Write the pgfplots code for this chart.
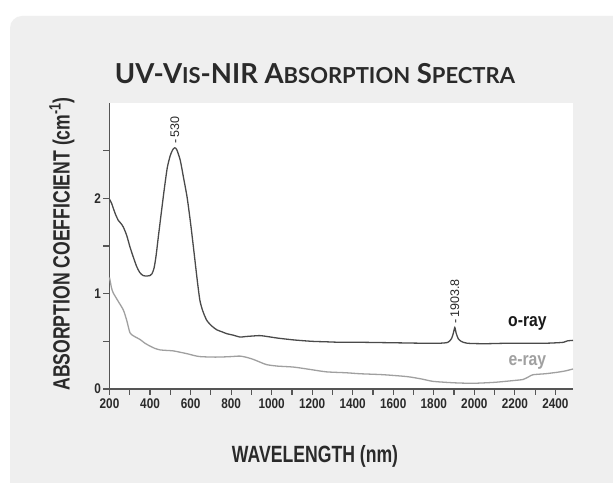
\documentclass[border=0pt]{standalone}
\usepackage{fontspec}
\setmainfont{Liberation Sans}
\newfontfamily\titlefont{Lato}
\usepackage{pgfplots}
\pgfplotsset{compat=1.18}
\definecolor{panel}{HTML}{EFEFEF}
\definecolor{oray}{HTML}{4A4A4A}
\definecolor{eray}{HTML}{A0A0A0}
\definecolor{axcol}{HTML}{555555}
\definecolor{txt}{HTML}{2A2A2A}
\newcommand{\tl}[1]{\scalebox{0.84}[1]{#1}}
\begin{document}
\begin{tikzpicture}[x=1pt,y=1pt]
\path[use as bounding box] (0,0) rectangle (613,482);
\fill[white] (0,0) rectangle (613,482);
\fill[panel, rounded corners=12pt] (10,-20) rectangle (640,466);
\begin{axis}[
  at={(109.5pt,93pt)}, anchor=south west,
  scale only axis, width=463.5pt, height=286pt,
  xmin=200, xmax=2487, ymin=0, ymax=3,
  axis background/.style={fill=white},
  axis lines*=left,
  axis line style={axcol, line width=1.3pt},
  tick align=outside,
  major tick length=6pt, minor tick length=6pt,
  tick style={axcol, line width=1.2pt},
  xtick={200,400,...,2400},
  minor xtick={300,500,...,2300},
  xticklabels={\tl{200},\tl{400},\tl{600},\tl{800},\tl{1000},\tl{1200},\tl{1400},\tl{1600},\tl{1800},\tl{2000},\tl{2200},\tl{2400}},
  ytick={0,1,2},
  minor ytick={0.5,1.5,2.5},
  yticklabels={\tl{0},\tl{1},\tl{2}},
  tick label style={font=\fontsize{14}{15}\selectfont\bfseries, text=txt},
  yticklabel style={xshift=1pt},
  clip=false,
]
\addplot[oray, line width=1.3pt, smooth, tension=0.4] coordinates {
(200,1.99)(210,1.95)(218,1.90)(230,1.83)(243,1.77)(255,1.74)(268,1.70)(285,1.61)(301,1.49)(318,1.38)(335,1.28)(350,1.22)(366,1.19)(385,1.185)(400,1.19)(410,1.21)(420,1.27)(430,1.40)(440,1.58)(451,1.77)(468,2.06)(485,2.32)(500,2.45)(512,2.51)(522,2.53)(532,2.51)(549,2.40)(565,2.22)(583,2.01)(600,1.74)(614,1.49)(633,1.14)(646,0.93)(660,0.82)(680,0.72)(705,0.66)(730,0.62)(755,0.60)(779,0.58)(810,0.565)(844,0.545)(870,0.55)(900,0.555)(943,0.56)(980,0.55)(1026,0.535)(1108,0.515)(1200,0.50)(1270,0.495)(1338,0.49)(1436,0.49)(1600,0.485)(1750,0.48)(1830,0.48)(1870,0.49)(1888,0.53)(1897,0.59)(1903.8,0.645)(1910,0.59)(1920,0.53)(1935,0.50)(1965,0.48)(2050,0.475)(2162,0.48)(2250,0.48)(2350,0.48)(2408,0.485)(2440,0.49)(2460,0.505)(2487,0.51)
};
\addplot[eray, line width=1.3pt, smooth, tension=0.4] coordinates {
(200,1.17)(210,1.06)(218,1.01)(240,0.93)(268,0.83)(285,0.72)(301,0.59)(320,0.555)(350,0.52)(375,0.48)(400,0.45)(425,0.425)(450,0.41)(480,0.405)(514,0.40)(550,0.385)(583,0.37)(620,0.35)(646,0.34)(700,0.335)(745,0.335)(800,0.34)(844,0.345)(880,0.33)(910,0.31)(945,0.28)(976,0.255)(1030,0.24)(1108,0.23)(1190,0.205)(1270,0.18)(1370,0.17)(1436,0.16)(1550,0.15)(1668,0.13)(1740,0.105)(1797,0.08)(1900,0.065)(1994,0.06)(2100,0.07)(2200,0.09)(2241,0.10)(2270,0.13)(2290,0.15)(2350,0.16)(2408,0.175)(2450,0.19)(2487,0.21)
};
\node[rotate=90, anchor=west, inner sep=1pt, font=\fontsize{12.5}{13}\selectfont, text=txt] at (axis cs:522,2.56) {-\,530};
\node[rotate=90, anchor=west, inner sep=1pt, font=\fontsize{12.5}{13}\selectfont, text=txt] at (axis cs:1903.8,0.67) {-\,1903.8};
\node[font=\fontsize{18.5}{19}\selectfont\bfseries, text=black!90] at (axis cs:2262,0.69) {\scalebox{0.85}[1]{o-ray}};
\node[font=\fontsize{18.5}{19}\selectfont\bfseries, text=eray] at (axis cs:2262,0.28) {\scalebox{0.85}[1]{e-ray}};
\end{axis}
\node[font=\fontsize{23.5}{24}\selectfont\bfseries, text=txt] at (315,26) {\scalebox{0.75}[1]{WAVELENGTH (nm)}};
\node[rotate=90, font=\fontsize{23.5}{24}\selectfont\bfseries, text=txt] at (62,238) {\scalebox{0.75}[1]{ABSORPTION COEFFICIENT (cm\textsuperscript{-1})}};
\node[text=txt] at (315,408) {\resizebox{400pt}{!}{\titlefont\bfseries UV-V{\fontsize{8}{8}\selectfont IS}-NIR A{\fontsize{8}{8}\selectfont BSORPTION} S{\fontsize{8}{8}\selectfont PECTRA}}};
\end{tikzpicture}
\end{document}
